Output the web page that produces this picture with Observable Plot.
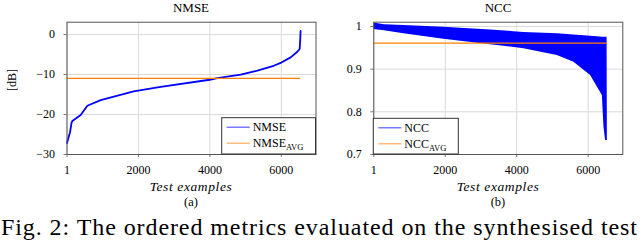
<!DOCTYPE html>
<html><head><meta charset="utf-8">
<script src="https://cdn.jsdelivr.net/npm/d3@7"></script>
<script src="https://cdn.jsdelivr.net/npm/@observablehq/plot@0.6"></script>
<style>
body{margin:0;background:#fff;}
#fig{position:relative;width:640px;height:240px;overflow:hidden;font-family:'Liberation Serif';color:#000;background:#fff;}
#fig svg{position:absolute;top:0;}
#fig svg text{font-family:'Liberation Serif' !important;}
</style></head><body><div id="fig"></div>
<script>
// ---- data ----
const nmseX = [1, 84, 130, 151, 383, 571, 943, 1867, 2622, 3994, 4210, 4861, 5329, 5785, 6000, 6261, 6447, 6513, 6530, 6538];
const nmseY = [-27.1, -24.5, -22.0, -21.6, -20.1, -17.8, -16.4, -14.2, -13.1, -11.3, -10.9, -10.0, -9.0, -7.8, -7.0, -5.7, -4.3, -3.6, -1.0, 0.9];
const nmseAvg = -10.95;

const nccX     = [1, 300, 840, 1960, 3269, 4202, 5137, 5602, 6070, 6257, 6398, 6443, 6490, 6530, 6538];
const nccUpper = [1.008, 1.004, 1.002, 0.998, 0.992, 0.986, 0.983, 0.980, 0.977, 0.976, 0.975, 0.975, 0.975, 0.975, 0.735];
const nccLower = [0.993, 0.990, 0.983, 0.970, 0.957, 0.948, 0.932, 0.916, 0.885, 0.858, 0.838, 0.764, 0.733, 0.733, 0.733];
const nccAvg = 0.961;

const nExamples = 6538;
const xTicks = [1, 2000, 4000, 6000];
const nmseTicks = [0, -10, -20, -30];
const nccTicks = [1, 0.9, 0.8, 0.7];
const titles = ["NMSE", "NCC"];
const subLabels = ["(a)", "(b)"];
const xLabel = "Test examples";
const yLabelLeft = "[dB]";
const caption = "Fig. 2: The ordered metrics evaluated on the synthesised test";

// ---- styles ----
const BLUE = "#0000ff", ORANGE = "#ff8000", GRID = "#dadada", FRAME = "#555";
const FONT = "'Liberation Serif'";
const fmt = d => d < 0 ? "\u2212" + Math.abs(d) : String(d);

const nmse = nmseX.map((x, i) => ({x, y: nmseY[i]}));
const ncc = nccX.map((x, i) => ({x, lo: nccLower[i], hi: nccUpper[i]}));

const common = {
  width: 320, height: 240, marginTop: 21.7, marginBottom: 86,
  style: {fontFamily: FONT, fontSize: "12px", background: "transparent", color: "#000"}
};

const left = Plot.plot({
  ...common,
  marginLeft: 66.5, marginRight: 4.5,
  x: {domain: [1, 6970]},
  y: {domain: [-30, 3.1]},
  marks: [
    Plot.gridX(xTicks, {stroke: GRID, strokeOpacity: 1}),
    Plot.gridY(nmseTicks, {stroke: GRID, strokeOpacity: 1}),
    Plot.line(nmse, {x: "x", y: "y", stroke: BLUE, strokeWidth: 1.8}),
    Plot.ruleY([nmseAvg], {x1: 1, x2: nExamples, stroke: ORANGE, strokeWidth: 1.3}),
    Plot.axisX(xTicks, {tickSize: 3, tickPadding: 8, label: null, tickFormat: fmt, stroke: "#777"}),
    Plot.axisY(nmseTicks, {tickSize: 3, tickPadding: 9, label: null, tickFormat: fmt, stroke: "#777"}),
    Plot.frame({stroke: FRAME})
  ]
});
left.style.left = "0px";

const right = Plot.plot({
  ...common,
  marginLeft: 53.3, marginRight: 17.7,
  x: {domain: [1, 6970]},
  y: {domain: [0.7, 1.01]},
  marks: [
    Plot.gridX(xTicks, {stroke: GRID, strokeOpacity: 1}),
    Plot.gridY(nccTicks, {stroke: GRID, strokeOpacity: 1}),
    Plot.areaY(ncc, {x: "x", y1: "lo", y2: "hi", fill: BLUE, clip: true}),
    Plot.ruleY([nccAvg], {x1: 1, x2: nExamples, stroke: ORANGE, strokeWidth: 1.3}),
    Plot.axisX(xTicks, {tickSize: 3, tickPadding: 8, label: null, tickFormat: fmt, stroke: "#777"}),
    Plot.axisY(nccTicks, {tickSize: 3, tickPadding: 9, label: null, tickFormat: fmt, stroke: "#777"}),
    Plot.frame({stroke: FRAME})
  ]
});
right.style.left = "320px";

const fig = document.getElementById("fig");
fig.appendChild(left);
fig.appendChild(right);

// ---- overlay text: titles, axis labels, legends, caption ----
const ov = d3.select(fig).append("svg")
  .attr("width", 640).attr("height", 240)
  .attr("font-family", FONT)
  .style("left", "0px");

const centers = [191, 498];
centers.forEach((cx, i) => {
  ov.append("text").attr("x", cx).attr("y", 11.5).attr("text-anchor", "middle")
    .attr("font-size", 13).text(titles[i]);
  ov.append("text").attr("x", cx).attr("y", 191).attr("text-anchor", "middle")
    .attr("font-size", 13.5).attr("font-style", "italic").attr("letter-spacing", 0.6).text(xLabel);
  ov.append("text").attr("x", cx).attr("y", 206).attr("text-anchor", "middle")
    .attr("font-size", 12.5).text(subLabels[i]);
});
ov.append("text").attr("transform", "translate(16,80) rotate(-90)").attr("text-anchor", "middle")
  .attr("font-size", 12).text(yLabelLeft);

function legend(x0, y0, x1, y1, name) {
  const g = ov.append("g");
  g.append("rect").attr("x", x0).attr("y", y0).attr("width", x1 - x0).attr("height", y1 - y0)
    .attr("fill", "#fff").attr("stroke", "#333").attr("stroke-width", 1);
  const rows = [[BLUE, name, null], [ORANGE, name, "AVG"]];
  rows.forEach(([c, t, sub], k) => {
    const yy = y0 + 9.5 + k * 16;
    g.append("line").attr("x1", x0 + 5).attr("x2", x0 + 28).attr("y1", yy).attr("y2", yy)
      .attr("stroke", c).attr("stroke-width", 1.2).attr("stroke-opacity", 0.65);
    const tx = g.append("text").attr("x", x0 + 31).attr("y", yy + 4).attr("font-size", 12).text(t);
    if (sub) tx.append("tspan").attr("font-size", 8.5).attr("dy", 3).text(sub);
  });
}
legend(221.7, 117.7, 315.5, 154, titles[0]);
legend(373.3, 118.3, 458.3, 154, titles[1]);

ov.append("text").attr("x", 1).attr("y", 235).attr("font-size", 24)
  .attr("textLength", 636).attr("lengthAdjust", "spacing").text(caption);
</script></body></html>
